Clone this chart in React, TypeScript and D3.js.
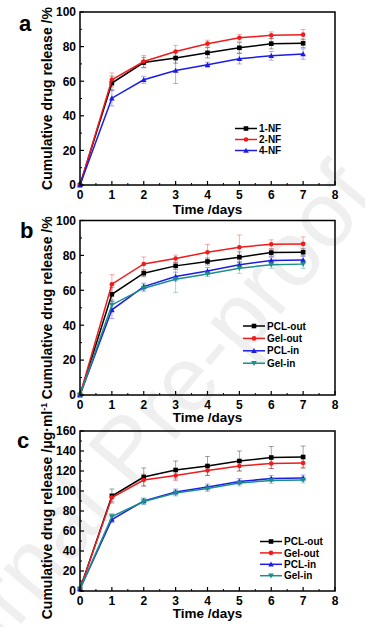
import * as d3 from "d3";

const days = [0, 1, 2, 3, 4, 5, 6, 7];
const xTicks = [0, 1, 2, 3, 4, 5, 6, 7, 8];

// panel a
const nf1 = [0, 58.9, 70.8, 73.4, 76.4, 79.3, 81.7, 81.9];
const nf1Err = [0, 4, 3, 3, 3, 3, 3, 2.5];
const nf2 = [0, 60.8, 71.4, 77.2, 81.7, 85.1, 86.5, 86.9];
const nf2Err = [0, 4, 3.5, 3.5, 2, 2, 2, 3];
const nf4 = [0, 50.2, 60.8, 66.2, 69.5, 73.0, 74.7, 75.7];
const nf4Err = [0, 4.5, 2, 7.5, 1.5, 3, 2.5, 3];

// panel b (%)
const bPclOut = [0, 57.7, 69.8, 74.0, 76.5, 79.0, 81.6, 81.8];
const bPclOutErr = [0, 4, 2, 2, 2, 3, 2, 2];
const bGelOut = [0, 63.5, 75.1, 78.2, 81.8, 84.7, 86.4, 86.6];
const bGelOutErr = [0, 5.5, 4, 2, 4.5, 7, 2.5, 4];
const bPclIn = [0, 48.8, 62.1, 67.9, 71.1, 74.6, 77.1, 77.4];
const bPclInErr = [0, 5, 2, 2.5, 2, 2, 2, 2];
const bGelIn = [0, 51.6, 61.2, 66.3, 69.4, 72.7, 74.6, 75.0];
const bGelInErr = [0, 3, 2, 7.5, 1.5, 3, 2, 2.5];

// panel c (ug/ml)
const cPclOut = [2, 95, 114, 121, 125, 130, 133.5, 134];
const cPclOutErr = [0, 7, 9, 9, 9.5, 10, 11, 11];
const cGelOut = [2, 93.5, 111, 115.5, 120.5, 125, 127.5, 128];
const cGelOutErr = [0, 4, 6, 5, 5, 5, 5, 5];
const cPclIn = [2, 71.5, 90, 99, 104, 109.5, 112.5, 113];
const cPclInErr = [0, 3, 3, 3, 3, 3, 3, 3];
const cGelIn = [2, 74.5, 89.5, 98, 102.5, 108, 110.5, 111];
const cGelInErr = [0, 3, 3, 3, 3, 3, 3, 3];

const yTicksPct = [0, 20, 40, 60, 80, 100];
const yTicksC = [0, 20, 40, 60, 80, 100, 120, 140, 160];

const BLACK = "#000000", RED = "#ee1c1c", BLUE = "#1c1ce6", TEAL = "#1a8f8a";
const FONT = "Arial, 'Liberation Sans', sans-serif";

type Series = { name: string; values: number[]; err: number[]; color: string; shape: string };

function Marker({ shape, x, y, color }: { shape: string; x: number; y: number; color: string }) {
  const s = 2.3;
  if (shape === "square") return <rect x={x - s} y={y - s} width={s * 2} height={s * 2} fill={color} />;
  if (shape === "circle") return <circle cx={x} cy={y} r={s} fill={color} />;
  if (shape === "up") return <path d={`M${x},${y - s - 0.5}L${x + s + 0.5},${y + s}L${x - s - 0.5},${y + s}Z`} fill={color} />;
  return <path d={`M${x},${y + s + 0.5}L${x + s + 0.5},${y - s}L${x - s - 0.5},${y - s}Z`} fill={color} />;
}

function Panel({ letter, letterX, letterY, bottom, top, yMax, yTicks, yLabel, series, legendX, legendY, legendGap, xTitleY }: {
  letter: string; letterX: number; letterY: number; bottom: number; top: number; yMax: number; yTicks: number[];
  yLabel: React.ReactNode; series: Series[]; legendX: number; legendY: number; legendGap: number; xTitleY: number;
}) {
  const x = d3.scaleLinear().domain([0, 8]).range([80, 335]);
  const y = d3.scaleLinear().domain([0, yMax]).range([bottom, top]);
  const line = d3.line<number>().x((_, i) => x(days[i])).y(v => y(v));
  const minorX = d3.range(0.5, 8, 1);
  const step = yTicks[1] - yTicks[0];
  const minorY = d3.range(step / 2, yMax, step);
  return (
    <g>
      <text x={letterX} y={letterY} fontSize={22} fontWeight="bold" fontFamily={FONT}>{letter}</text>
      {/* ticks */}
      {xTicks.map(t => (
        <g key={"xt" + t}>
          <line x1={x(t)} x2={x(t)} y1={bottom} y2={bottom - 4} stroke="#000" strokeWidth={1.2} />
          <text x={x(t)} y={bottom + 14} textAnchor="middle" fontSize={12} fontWeight="bold" fontFamily={FONT}>{t}</text>
        </g>
      ))}
      {minorX.map(t => (
        <line key={"xm" + t} x1={x(t)} x2={x(t)} y1={bottom} y2={bottom - 2} stroke="#000" strokeWidth={1} />
      ))}
      {yTicks.map(t => (
        <g key={"yt" + t}>
          <line x1={80} x2={84} y1={y(t)} y2={y(t)} stroke="#000" strokeWidth={1.2} />
          <text x={76} y={y(t)} dy="0.36em" textAnchor="end" fontSize={12} fontWeight="bold" fontFamily={FONT}>{t}</text>
        </g>
      ))}
      {minorY.map(t => (
        <line key={"ym" + t} x1={80} x2={82} y1={y(t)} y2={y(t)} stroke="#000" strokeWidth={1} />
      ))}
      {/* error bars */}
      {series.map(s => s.values.map((v, i) => s.err[i] > 0 && (
        <g key={s.name + "e" + i} stroke={s.color} strokeOpacity={0.45} strokeWidth={0.8}>
          <line x1={x(days[i])} x2={x(days[i])} y1={y(v - s.err[i])} y2={y(v + s.err[i])} />
          <line x1={x(days[i]) - 2.5} x2={x(days[i]) + 2.5} y1={y(v - s.err[i])} y2={y(v - s.err[i])} />
          <line x1={x(days[i]) - 2.5} x2={x(days[i]) + 2.5} y1={y(v + s.err[i])} y2={y(v + s.err[i])} />
        </g>
      )))}
      {/* lines */}
      {series.map(s => (
        <g key={s.name}>
          <path d={line(s.values) || ""} fill="none" stroke={s.color} strokeWidth={1.5} />
          {s.values.map((v, i) => <Marker key={i} shape={s.shape} x={x(days[i])} y={y(v)} color={s.color} />)}
        </g>
      ))}
      {/* frame */}
      <rect x={80} y={top} width={255} height={bottom - top} fill="none" stroke="#000" strokeWidth={1.5} />
      {/* legend */}
      {series.map((s, i) => (
        <g key={s.name + "lg"}>
          <line x1={legendX} x2={legendX + 22} y1={legendY + i * legendGap} y2={legendY + i * legendGap} stroke={s.color} strokeWidth={1.5} />
          <Marker shape={s.shape} x={legendX + 11} y={legendY + i * legendGap} color={s.color} />
          <text x={legendX + 24} y={legendY + i * legendGap} dy="0.36em" fontSize={10} fontWeight="bold" fontFamily={FONT}>{s.name}</text>
        </g>
      ))}
      <text x={207.5} y={xTitleY} textAnchor="middle" fontSize={13.5} fontWeight="bold" fontFamily={FONT}>Time /days</text>
      <text transform={`translate(52,${(top + bottom) / 2}) rotate(-90)`} textAnchor="middle" fontSize={14} fontWeight="bold" fontFamily={FONT}>{yLabel}</text>
    </g>
  );
}

export default function App() {
  const seriesA: Series[] = [
    { name: "1-NF", values: nf1, err: nf1Err, color: BLACK, shape: "square" },
    { name: "2-NF", values: nf2, err: nf2Err, color: RED, shape: "circle" },
    { name: "4-NF", values: nf4, err: nf4Err, color: BLUE, shape: "up" },
  ];
  const seriesB: Series[] = [
    { name: "PCL-out", values: bPclOut, err: bPclOutErr, color: BLACK, shape: "square" },
    { name: "Gel-out", values: bGelOut, err: bGelOutErr, color: RED, shape: "circle" },
    { name: "PCL-in", values: bPclIn, err: bPclInErr, color: BLUE, shape: "up" },
    { name: "Gel-in", values: bGelIn, err: bGelInErr, color: TEAL, shape: "down" },
  ];
  const seriesC: Series[] = [
    { name: "PCL-out", values: cPclOut, err: cPclOutErr, color: BLACK, shape: "square" },
    { name: "Gel-out", values: cGelOut, err: cGelOutErr, color: RED, shape: "circle" },
    { name: "PCL-in", values: cPclIn, err: cPclInErr, color: BLUE, shape: "up" },
    { name: "Gel-in", values: cGelIn, err: cGelInErr, color: TEAL, shape: "down" },
  ];
  return (
    <svg width={365} height={627} style={{ position: "absolute", left: 0, top: 0, background: "#fff" }}>
      <text transform="translate(150,470) rotate(-50)" textAnchor="middle" fontSize={92} fontFamily={FONT} fill="#efefef">Journal Pre-proof</text>
      <Panel letter="a" letterX={19} letterY={31} bottom={185} top={12} yMax={100} yTicks={yTicksPct}
        yLabel="Cumulative drug release /%" series={seriesA} legendX={235} legendY={128.5} legendGap={11} xTitleY={214} />
      <Panel letter="b" letterX={20} letterY={238} bottom={395} top={220.5} yMax={100} yTicks={yTicksPct}
        yLabel="Cumulative drug release /%" series={seriesB} legendX={243} legendY={326} legendGap={12.4} xTitleY={422} />
      <Panel letter="c" letterX={17} letterY={448} bottom={591} top={431} yMax={160} yTicks={yTicksC}
        yLabel={<>Cumulative drug release /μg·ml<tspan dy={-5} fontSize={9}>-1</tspan></>}
        series={seriesC} legendX={260} legendY={541.5} legendGap={11.4} xTitleY={618} />
    </svg>
  );
}
